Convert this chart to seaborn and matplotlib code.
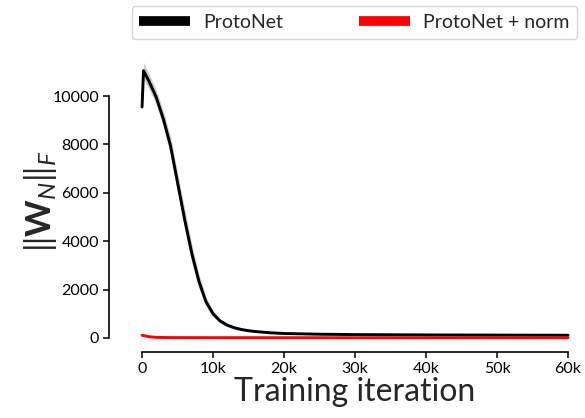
import numpy as np
import pandas as pd
import matplotlib
matplotlib.use("Agg")
import matplotlib.pyplot as plt
from matplotlib.lines import Line2D
import seaborn as sns

# Frobenius norm of the classifier weights during training (mean and spread over runs)
proto_iters = [0, 200, 1000, 2000, 3000, 4000, 5000, 6000, 7000, 8000, 9000,
               10000, 11000, 12000, 13000, 14000, 15000, 16000, 18000, 20000,
               25000, 30000, 40000, 50000, 60000]
proto_norm = [9550, 11050, 10600, 9950, 9050, 7950, 6420, 4900, 3500, 2350, 1500,
              1000, 700, 530, 420, 350, 300, 265, 215, 185,
              155, 140, 125, 118, 112]
proto_sd = [200, 350, 320, 300, 330, 380, 420, 420, 380, 300, 200,
            130, 90, 70, 55, 45, 40, 35, 30, 28,
            25, 22, 22, 22, 22]

normed_iters = [0, 500, 1000, 2000, 4000, 10000, 30000, 60000]
normed_norm = [110, 80, 50, 25, 15, 12, 10, 10]

methods = ["ProtoNet", "ProtoNet + norm"]
colors = ["black", "red"]
xtick_values = [0, 10000, 20000, 30000, 40000, 50000, 60000]
xtick_labels = ["0", "10k", "20k", "30k", "40k", "50k", "60k"]
ytick_values = [0, 2000, 4000, 6000, 8000, 10000]

sns.set_theme(style="ticks")
plt.rcParams["font.family"] = ["Lato", "DejaVu Sans"]
plt.rcParams["mathtext.fontset"] = "custom"
plt.rcParams["mathtext.rm"] = "Lato"
plt.rcParams["mathtext.it"] = "Lato:italic"
plt.rcParams["mathtext.bf"] = "Lato:bold"

df = pd.concat([
    pd.DataFrame({"iteration": proto_iters, "norm": proto_norm, "method": methods[0]}),
    pd.DataFrame({"iteration": normed_iters, "norm": normed_norm, "method": methods[1]}),
])

fig = plt.figure(figsize=(5.85, 4.18), dpi=100)
ax = fig.add_axes([0.2368, 0.1799, 0.7402, 0.677])

lo = np.array(proto_norm) - np.array(proto_sd)
hi = np.array(proto_norm) + np.array(proto_sd)
ax.fill_between(proto_iters, lo, hi, color="0.8", lw=0, zorder=1)

sns.lineplot(data=df, x="iteration", y="norm", hue="method", palette=dict(zip(methods, colors)),
             linewidth=2.1, legend=False, ax=ax, zorder=2)

ax.set_xlim(-500, 60500)
ax.set_ylim(-200, 11500)
ax.set_xticks(xtick_values)
ax.set_xticklabels(xtick_labels)
ax.set_yticks(ytick_values)
ax.tick_params(labelsize=11.5, length=4, width=1.1, colors="black", pad=3)
for sp in ax.spines.values():
    sp.set_linewidth(1.2)
    sp.set_color("black")

sns.despine(ax=ax, trim=True)
ax.spines["left"].set_position(("outward", 21.5))
ax.spines["bottom"].set_position(("outward", 6.5))

ax.set_xlabel("Training iteration", fontsize=23, labelpad=1)
ax.set_ylabel(r"$\|\mathbf{W}_N\|_F$", fontsize=25, labelpad=-5)

handles = [Line2D([], [], color=c, lw=7, solid_capstyle="butt") for c in colors]
fig.legend(handles, methods, loc="upper center", bbox_to_anchor=(0.606, 1.008), ncol=2,
           fontsize=14, handlelength=2.6, columnspacing=3.9, frameon=True,
           borderpad=0.4, handletextpad=0.7)

fig.savefig("out.png", dpi=100)
